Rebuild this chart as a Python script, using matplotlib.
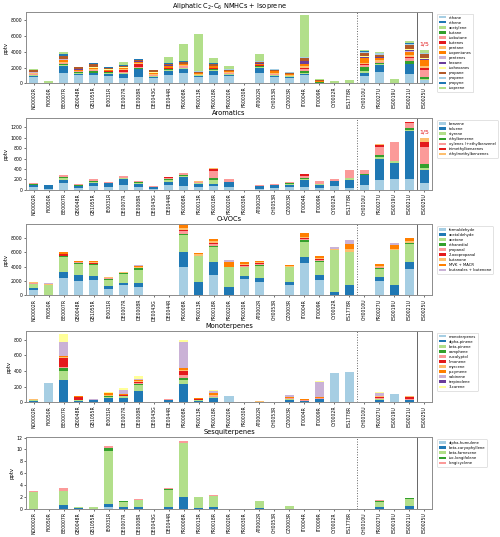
import matplotlib.pyplot as plt
import numpy as np

stations = ['NO0002R', 'FI0050R', 'BE0007R', 'GB0048R', 'GB1055R', 'IE0031R',
            'DE0007R', 'DE0008R', 'DE0043G', 'DE0044R', 'FR0008R', 'FR0013R',
            'FR0018R', 'FR0020R', 'FR0030R', 'AT0002R', 'CH0053R', 'CZ0003R',
            'IT0004R', 'IT0009R', 'CY0002R', 'ES1778R', 'CH0010U', 'FR0027U',
            'ES0019U', 'ES0021U', 'ES0025U']

# aliphatics, one row per station (ES0025U shown at 1/5)
aliph_species = ['ethane', 'ethene', 'acetylene', 'butane', 'isobutane', 'butenes',
                 'pentane', 'isopentanes', 'pentenes', 'hexane', 'isohexanes',
                 'propane', 'propene', 'propyne', 'isoprene']
aliph = [
    [800, 150, 100, 50, 60, 20, 80, 100, 20, 20, 30, 250, 50, 10, 50],
    [0, 0, 0, 0, 0, 0, 0, 0, 0, 0, 0, 0, 0, 0, 250],
    [1350, 900, 80, 120, 120, 40, 150, 250, 40, 30, 40, 280, 100, 200, 250],
    [1000, 200, 100, 100, 100, 30, 80, 100, 20, 20, 20, 250, 30, 20, 50],
    [1000, 250, 100, 200, 120, 40, 100, 150, 20, 20, 20, 450, 20, 20, 100],
    [900, 250, 150, 80, 100, 30, 80, 100, 30, 20, 30, 200, 20, 20, 50],
    [700, 500, 50, 50, 100, 250, 100, 150, 50, 50, 50, 100, 100, 50, 350],
    [800, 1000, 50, 50, 200, 300, 150, 150, 50, 30, 30, 150, 50, 20, 20],
    [700, 100, 100, 50, 100, 20, 100, 150, 20, 20, 20, 250, 20, 20, 20],
    [1100, 500, 50, 100, 100, 50, 100, 200, 50, 20, 20, 100, 100, 50, 850],
    [1300, 500, 100, 100, 150, 20, 100, 150, 30, 20, 20, 150, 100, 100, 2100],
    [800, 150, 50, 50, 50, 0, 50, 100, 0, 0, 0, 200, 50, 0, 4700],
    [1100, 500, 50, 100, 100, 50, 100, 200, 0, 0, 0, 200, 100, 50, 650],
    [900, 200, 50, 50, 100, 0, 100, 200, 0, 0, 0, 100, 50, 0, 400],
    [0] * 15,
    [1350, 600, 100, 100, 100, 30, 100, 100, 20, 20, 20, 200, 50, 30, 950],
    [800, 100, 100, 100, 50, 0, 150, 200, 0, 0, 0, 200, 50, 0, 50],
    [650, 150, 100, 0, 50, 0, 100, 150, 0, 0, 0, 150, 50, 0, 50],
    [1050, 100, 150, 300, 150, 200, 200, 250, 100, 300, 50, 350, 100, 50, 5300],
    [50, 0, 0, 100, 50, 0, 0, 50, 0, 0, 0, 200, 0, 0, 50],
    [0, 0, 0, 0, 0, 0, 0, 0, 0, 0, 0, 0, 0, 0, 250],
    [0, 0, 0, 0, 0, 0, 0, 0, 0, 0, 0, 0, 0, 0, 450],
    [900, 350, 300, 500, 250, 100, 200, 600, 50, 50, 100, 500, 100, 50, 150],
    [1400, 900, 100, 150, 150, 50, 150, 300, 50, 50, 50, 300, 150, 50, 100],
    [0, 0, 0, 0, 0, 0, 0, 0, 0, 0, 0, 0, 0, 0, 500],
    [1200, 1200, 100, 350, 300, 200, 200, 450, 100, 100, 200, 500, 150, 100, 200],
    [350, 100, 100, 300, 800, 300, 200, 800, 50, 50, 100, 600, 50, 50, 400],
]

arom_species = ['benzene', 'toluene', 'styrene', 'ethylbenzene',
                'xylenes (+ethylbenzene)', 'trimethylbenzenes', 'ethylmethylbenzenes']
arom = [
    [50, 40, 0, 10, 20, 0, 0],
    [10, 70, 0, 0, 5, 0, 0],
    [120, 70, 40, 10, 40, 0, 0],
    [30, 30, 10, 10, 20, 0, 0],
    [60, 70, 20, 20, 30, 0, 0],
    [40, 80, 10, 5, 15, 0, 0],
    [90, 110, 20, 10, 30, 0, 0],
    [40, 70, 15, 15, 20, 0, 0],
    [20, 30, 0, 0, 10, 0, 0],
    [90, 60, 40, 10, 20, 20, 0],
    [70, 180, 20, 20, 30, 0, 0],
    [40, 60, 20, 10, 20, 0, 10],
    [60, 50, 80, 40, 120, 50, 20],
    [50, 100, 0, 0, 50, 0, 0],
    [0, 0, 0, 0, 0, 0, 0],
    [20, 40, 10, 0, 10, 0, 0],
    [30, 60, 0, 0, 10, 0, 0],
    [40, 40, 30, 10, 30, 0, 0],
    [50, 130, 30, 10, 50, 30, 0],
    [30, 50, 20, 0, 60, 0, 0],
    [70, 100, 0, 0, 30, 0, 0],
    [30, 160, 30, 0, 150, 0, 0],
    [80, 200, 0, 20, 80, 0, 0],
    [190, 400, 40, 40, 145, 40, 30],
    [200, 315, 45, 0, 360, 0, 0],
    [200, 930, 30, 25, 100, 15, 15],
    [135, 235, 45, 85, 320, 105, 65],
]

ovoc_species = ['formaldehyde', 'acetaldehyde', 'acetone', 'ethanedial', 'propanal',
                '2-oxopropanal', 'butanone', 'MVK + MACR', 'butanales + butenone']
ovoc = [
    [800, 200, 600, 50, 50, 50, 100, 50, 0],
    [0, 0, 1400, 0, 0, 0, 150, 50, 100],
    [2400, 900, 2000, 150, 100, 150, 100, 200, 0],
    [2000, 800, 1600, 100, 100, 0, 100, 100, 50],
    [2100, 600, 1500, 100, 100, 100, 200, 150, 0],
    [900, 400, 900, 50, 100, 50, 100, 100, 0],
    [1400, 300, 1300, 50, 50, 0, 100, 100, 0],
    [1200, 500, 1800, 250, 100, 0, 150, 150, 50],
    [0, 0, 0, 0, 0, 0, 0, 0, 0],
    [0, 0, 0, 0, 0, 0, 0, 0, 0],
    [3900, 2100, 2400, 200, 300, 200, 300, 550, 0],
    [0, 1850, 3700, 0, 0, 0, 150, 150, 0],
    [2900, 1700, 2100, 200, 200, 200, 300, 200, 100],
    [100, 1100, 2700, 0, 0, 0, 100, 700, 250],
    [2300, 400, 1200, 100, 100, 100, 100, 350, 0],
    [1900, 500, 1700, 100, 100, 200, 100, 200, 50],
    [0, 0, 0, 0, 0, 0, 0, 0, 0],
    [1500, 400, 2000, 50, 0, 0, 100, 150, 0],
    [4500, 800, 2200, 150, 200, 100, 200, 600, 0],
    [2200, 700, 1700, 200, 150, 50, 200, 300, 0],
    [0, 500, 5800, 0, 0, 0, 150, 0, 250],
    [0, 1400, 4700, 0, 0, 0, 300, 800, 450],
    [0, 0, 0, 0, 0, 0, 0, 0, 0],
    [2000, 500, 1200, 100, 100, 0, 200, 250, 0],
    [0, 1500, 4800, 0, 0, 0, 200, 500, 300],
    [3700, 900, 2600, 50, 100, 0, 200, 400, 0],
    [0, 0, 0, 0, 0, 0, 0, 0, 0],
]

mono_species = ['monoterpenes', 'alpha-pinene', 'beta-pinene', 'camphene', 'eucalyptol',
                'limonene', 'myrcene', 'p-cymene', 'sabinene', 'terpinolene', '3-carene']
mono = [
    [0, 20, 5, 0, 0, 5, 5, 0, 0, 0, 10],
    [240, 0, 0, 0, 0, 0, 0, 0, 0, 0, 0],
    [0, 290, 110, 40, 10, 115, 10, 10, 185, 0, 100],
    [0, 20, 5, 0, 0, 40, 5, 5, 0, 0, 5],
    [0, 25, 5, 0, 0, 0, 0, 0, 10, 0, 5],
    [0, 50, 20, 5, 10, 0, 10, 20, 0, 0, 20],
    [0, 60, 15, 0, 10, 10, 0, 10, 50, 0, 25],
    [0, 140, 80, 10, 10, 20, 10, 20, 10, 0, 30],
    [0, 0, 0, 0, 0, 0, 0, 0, 0, 0, 0],
    [0, 25, 5, 0, 5, 0, 0, 5, 5, 0, 0],
    [0, 230, 60, 15, 40, 50, 20, 20, 330, 0, 25],
    [0, 20, 5, 0, 5, 10, 5, 10, 0, 0, 5],
    [0, 60, 10, 0, 10, 5, 10, 20, 30, 0, 15],
    [85, 0, 0, 0, 0, 0, 0, 0, 0, 0, 0],
    [0, 0, 0, 0, 0, 0, 0, 0, 0, 0, 0],
    [0, 0, 0, 0, 5, 0, 10, 0, 0, 0, 0],
    [0, 0, 0, 0, 0, 0, 0, 0, 0, 0, 0],
    [0, 30, 10, 0, 10, 10, 0, 10, 20, 0, 5],
    [0, 10, 5, 0, 10, 0, 5, 5, 0, 0, 5],
    [0, 35, 5, 0, 15, 5, 0, 10, 190, 0, 10],
    [370, 0, 0, 0, 0, 0, 0, 0, 0, 0, 0],
    [390, 0, 0, 0, 0, 0, 0, 0, 0, 0, 0],
    [0, 0, 0, 0, 0, 0, 0, 0, 0, 0, 0],
    [0, 30, 10, 0, 15, 10, 10, 10, 35, 0, 5],
    [100, 0, 0, 0, 0, 0, 0, 0, 0, 0, 0],
    [0, 30, 0, 0, 10, 25, 10, 5, 0, 0, 5],
    [0, 0, 0, 0, 0, 0, 0, 0, 0, 0, 0],
]

sesq_species = ['alpha-humulene', 'beta-caryophyllene', 'beta-farnesene',
                'iso-longifolene', 'longicyclene']
sesq = [
    [0, 0, 2.8, 0, 0.2],
    [0, 0, 0, 0, 0],
    [0, 0.6, 2.3, 0.1, 0.5],
    [0, 0.1, 0.1, 0, 0.05],
    [0, 0, 0.3, 0, 0],
    [0.3, 0.4, 9.1, 0.4, 0.4],
    [0, 0.2, 0.9, 0.1, 0.15],
    [0, 0.3, 1.1, 0, 0.2],
    [0, 0, 0, 0, 0],
    [0, 0.2, 3.0, 0.15, 0.15],
    [0, 2.0, 9.0, 0.1, 0.4],
    [0, 0.05, 1.95, 0, 0],
    [0, 0.3, 1.8, 0.1, 0.1],
    [0, 0, 0, 0, 0],
    [0, 0, 0, 0, 0],
    [0, 0.15, 1.15, 0, 0],
    [0, 0, 0, 0, 0],
    [0, 0, 0.45, 0, 0],
    [0, 0, 0, 0, 0],
    [0, 0, 0, 0, 0],
    [0, 0, 0, 0, 0],
    [0, 0, 0, 0, 0],
    [0, 0, 0, 0, 0],
    [0, 0.3, 0.8, 0.1, 0.2],
    [0, 0, 0, 0, 0],
    [0, 0.35, 1.3, 0.1, 0],
    [0, 0, 0, 0, 0],
]

panels = [
    ('Aliphatic C$_2$-C$_6$ NMHCs + Isoprene', aliph_species, aliph, True),
    ('Aromatics', arom_species, arom, True),
    ('O-VOCs', ovoc_species, ovoc, False),
    ('Monoterpenes', mono_species, mono, False),
    ('Sesquiterpenes', sesq_species, sesq, False),
]

colors = plt.get_cmap('Paired').colors
x = np.arange(len(stations))

fig = plt.figure(figsize=(5.0, 5.37), dpi=100)
tops = [0.978, 0.780, 0.583, 0.384, 0.186]
h = 0.133

for (title, species, data, scaled), top in zip(panels, tops):
    ax = fig.add_axes([0.052, top - h, 0.812, h])
    vals = np.array(data, dtype=float).T
    bottom = np.zeros(len(stations))
    for i, name in enumerate(species):
        ax.bar(x, vals[i], 0.6, bottom=bottom, color=colors[i % 12],
               label=name, linewidth=0)
        bottom += vals[i]
    ax.set_xlim(-0.5, len(stations) - 0.5)
    ax.axvline(21.5, color='0.4', ls=':', lw=0.7)
    ax.axvline(25.5, color='0.4', ls='-', lw=0.7)
    if scaled:
        ax.text(26, bottom[-1] + 0.05 * ax.get_ylim()[1], '1/5', color='#e31a1c',
                fontsize=4.5, ha='center', va='bottom')
    ax.set_title(title, fontsize=4.8, pad=2)
    ax.set_ylabel('pptv', fontsize=3.8, labelpad=1.5)
    ax.set_xticks(x)
    ax.set_xticklabels(stations, rotation=90, fontsize=3.3)
    ax.tick_params(axis='y', labelsize=3.3, length=1.5, width=0.4, pad=1)
    ax.tick_params(axis='x', length=1.5, width=0.4, pad=1)
    for s in ax.spines.values():
        s.set_color('0.55')
        s.set_linewidth(0.7)
    leg = ax.legend(loc='upper left', bbox_to_anchor=(1.008, 1.0), fontsize=2.7,
                    handlelength=2.0, handleheight=0.6, labelspacing=0.28,
                    handletextpad=0.6, borderpad=0.5, framealpha=1)
    leg.get_frame().set_linewidth(0.4)

fig.savefig('out.png', dpi=100)
